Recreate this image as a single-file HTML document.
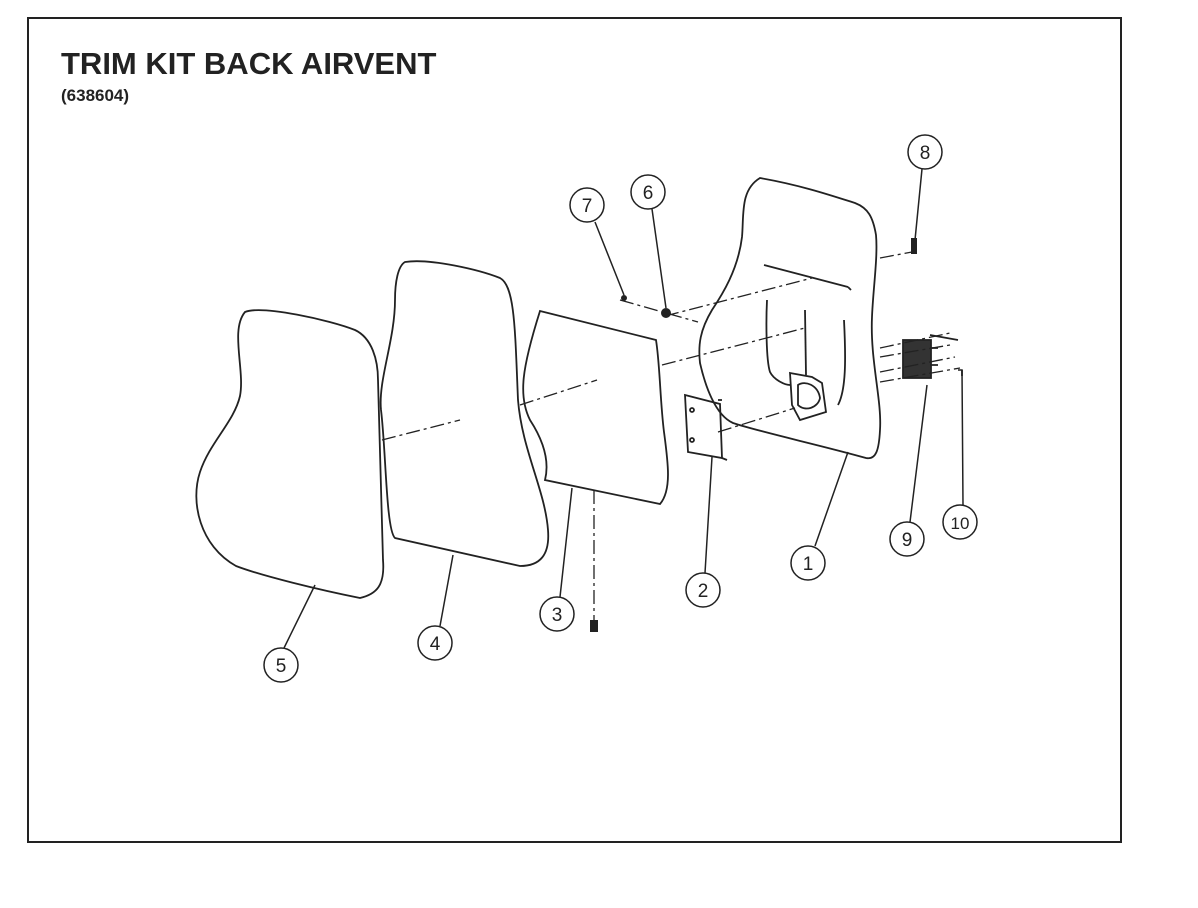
<!DOCTYPE html>
<html><head><style>
html,body{margin:0;padding:0;background:#fff;}
svg{display:block;}
</style></head><body>
<svg width="1198" height="908" viewBox="0 0 1198 908" xmlns="http://www.w3.org/2000/svg" font-family="Liberation Sans, sans-serif">
<rect x="28" y="18" width="1093" height="824" fill="#fff" stroke="#222" stroke-width="2"/>
<text x="61" y="74" font-size="31" font-weight="bold" fill="#222">TRIM KIT BACK AIRVENT</text>
<text x="61" y="101" font-size="17" font-weight="bold" fill="#222">(638604)</text>
<g fill="none" stroke="#222" stroke-width="1.8">
<!-- part 5 -->
<path d="M245 312 C262 305 330 320 355 330 C372 338 378 360 378 380 L383 560 C385 585 377 594 360 598 C320 590 262 576 236 566 C200 546 190 502 200 472 C210 442 234 422 240 396 C245 370 230 330 245 312 Z"/>
<!-- part 4 -->
<path d="M405 262 C430 258 480 270 500 278 C515 286 515 330 518 400 C522 450 545 490 548 530 C550 555 540 566 520 566 L395 538 C386 530 386 450 381 410 C378 380 395 340 395 300 C395 282 398 266 405 262 Z"/>
<!-- part 3 -->
<path d="M540 311 L656 340 C660 365 660 400 664 432 C668 462 672 490 660 504 L545 480 C550 460 543 440 530 420 C518 396 522 368 540 311 Z"/>
<!-- part 1 -->
<path d="M760 178 C800 185 830 195 855 203 C868 208 873 217 876 235 C878 257 873 290 872 317 C870 360 882 400 880 430 C879 450 876 460 866 458 C820 445 760 432 733 423 C715 415 705 385 700 363 C698 345 700 330 712 310 C722 295 738 270 742 237 C744 215 740 190 760 178 Z"/>
<path d="M764 265 L848 287 M848 287 L851 290"/>
<path d="M767 300 C766 320 766 360 770 372 C774 380 785 385 790 385"/>
<path d="M805 310 L806 375"/>
<path d="M844 320 C846 360 846 390 838 405"/>
<path d="M790 373 L812 377 L822 383 L826 412 L800 420 L792 405 Z"/>
<path d="M798 385 C805 380 818 385 820 398 C818 408 805 412 798 405 Z"/>
<!-- part 2 plate -->
<path d="M685 395 L720 404 L722 458 L688 452 Z"/>
<path d="M718 400 L722 400 M722 458 L727 460"/>
<circle cx="692" cy="410" r="2"/><circle cx="692" cy="440" r="2"/>
<!-- part 9 -->
<rect x="903" y="340" width="28" height="38" fill="#333"/>
<path d="M930 335 L958 340 M931 348 L938 348 M931 365 L938 365 M962 370 L962 376"/>
</g>
<g fill="none" stroke="#222" stroke-width="1.3" stroke-dasharray="14 4 3 4">
<path d="M382 440 L460 420 M520 405 L597 380 M662 365 L805 328"/>
<path d="M665 316 L812 278"/>
<path d="M620 300 L698 322"/>
<path d="M880 258 L912 252"/>
<path d="M718 432 L795 408"/>
<path d="M880 348 L950 333 M880 357 L950 345 M880 372 L955 357 M880 382 L960 368"/>
<path d="M594 490 L594 630"/>
</g>
<g fill="#222">
<rect x="590" y="620" width="8" height="12"/>
<circle cx="666" cy="313" r="5"/>
<circle cx="624" cy="298" r="3"/>
<rect x="911" y="238" width="6" height="16"/>
</g>
<g fill="none" stroke="#222" stroke-width="1.5">
<circle cx="925" cy="152" r="17"/><circle cx="587" cy="205" r="17"/><circle cx="648" cy="192" r="17"/>
<circle cx="808" cy="563" r="17"/><circle cx="703" cy="590" r="17"/><circle cx="557" cy="614" r="17"/>
<circle cx="435" cy="643" r="17"/><circle cx="281" cy="665" r="17"/><circle cx="907" cy="539" r="17"/>
<circle cx="960" cy="522" r="17"/>
<path d="M284 648 L315 585 M440 626 L453 555 M560 597 L572 488 M705 573 L712 457 M815 546 L848 452 M910 522 L927 385 M963 505 L962 370 L958 370 M922 169 L915 240 M595 222 L624 295 M652 209 L666 308"/>
</g>
<g font-size="19" fill="#222" text-anchor="middle">
<text x="925" y="159">8</text><text x="587" y="212">7</text><text x="648" y="199">6</text>
<text x="808" y="570">1</text><text x="703" y="597">2</text><text x="557" y="621">3</text>
<text x="435" y="650">4</text><text x="281" y="672">5</text><text x="907" y="546">9</text>
<text x="960" y="529" font-size="17">10</text>
</g>
</svg>
</body></html>
